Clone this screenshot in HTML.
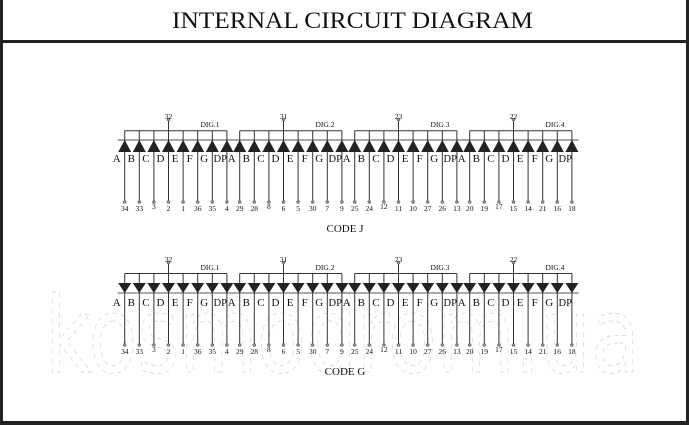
<!DOCTYPE html>
<html><head><meta charset="utf-8"><style>
html,body{margin:0;padding:0;background:#fff;}
svg{display:block;font-family:"Liberation Serif",serif;}
</style></head><body>
<svg width="689" height="425" viewBox="0 0 689 425" xmlns="http://www.w3.org/2000/svg">
<defs>
<g id="gj" stroke="#333" stroke-width="1" fill="none">
  <line x1="0" y1="130.7" x2="102.2" y2="130.7"/>
  <line x1="43.8" y1="120" x2="43.8" y2="130.7"/>
  <circle cx="43.8" cy="119.5" r="1.3" fill="#999" stroke="#777"/>
  <line x1="-7" y1="140" x2="109" y2="140" stroke="#555"/>
  <g id="dj">
    <line x1="0" y1="130.7" x2="0" y2="201"/>
    <polygon points="0,140 -6.5,152 6.5,152" fill="#222" stroke="none"/>
    <circle cx="0" cy="202" r="1.3" fill="#999" stroke="#777"/>
  </g>
  <use href="#dj" x="14.6"/><use href="#dj" x="29.2"/><use href="#dj" x="43.8"/>
  <use href="#dj" x="58.4"/><use href="#dj" x="73"/><use href="#dj" x="87.6"/><use href="#dj" x="102.2"/>
</g>
<g id="lj" font-size="11" fill="#111" text-anchor="middle">
  <text x="-8" y="162">A</text><text x="6.6" y="162">B</text><text x="21.2" y="162">C</text><text x="35.8" y="162">D</text>
  <text x="50.4" y="162">E</text><text x="65" y="162">F</text><text x="79.6" y="162">G</text><text x="95.5" y="162" font-size="10.5">DP</text>
</g>
<g id="gg" stroke="#333" stroke-width="1" fill="none">
  <line x1="0" y1="273.5" x2="102.2" y2="273.5"/>
  <line x1="43.8" y1="263" x2="43.8" y2="273.5"/>
  <circle cx="43.8" cy="262.5" r="1.3" fill="#999" stroke="#777"/>
  <line x1="-7" y1="293" x2="109" y2="293" stroke="#555"/>
  <g id="dg">
    <line x1="0" y1="273.5" x2="0" y2="344"/>
    <polygon points="-6.5,283 6.5,283 0,293" fill="#222" stroke="none"/>
    <circle cx="0" cy="345" r="1.3" fill="#999" stroke="#777"/>
  </g>
  <use href="#dg" x="14.6"/><use href="#dg" x="29.2"/><use href="#dg" x="43.8"/>
  <use href="#dg" x="58.4"/><use href="#dg" x="73"/><use href="#dg" x="87.6"/><use href="#dg" x="102.2"/>
</g>
</defs>

<!-- watermark -->
<text x="45" y="372" font-family="DejaVu Sans,sans-serif" font-weight="normal" font-size="105" fill="none" stroke="#d4d4d4" stroke-width="0.8" stroke-dasharray="5 5" textLength="595" lengthAdjust="spacingAndGlyphs">kosmodrom.ua</text>

<!-- frame -->
<rect x="0" y="0" width="3" height="425" fill="#222"/>
<rect x="686" y="0" width="3" height="425" fill="#222"/>
<rect x="0" y="40" width="689" height="3" fill="#222"/>
<rect x="0" y="421" width="689" height="4" fill="#222"/>
<text x="352.5" y="28" font-size="23" text-anchor="middle" fill="#111" textLength="361" lengthAdjust="spacingAndGlyphs">INTERNAL CIRCUIT DIAGRAM</text>

<!-- CODE J -->
<use href="#gj" x="124.7"/><use href="#gj" x="239.7"/><use href="#gj" x="354.7"/><use href="#gj" x="469.7"/>
<use href="#lj" x="124.7"/><use href="#lj" x="239.7"/><use href="#lj" x="354.7"/><use href="#lj" x="469.7"/>
<g font-size="7.5" fill="#111" text-anchor="middle">
<text x="168.5" y="119">32</text><text x="283.5" y="119">31</text><text x="398.5" y="119">23</text><text x="513.5" y="119">22</text>
<text x="210" y="127">DIG.1</text><text x="325" y="127">DIG.2</text><text x="440" y="127">DIG.3</text><text x="555" y="127">DIG.4</text>
</g>
<g font-size="7.5" fill="#111" text-anchor="middle">
<text x="124.7" y="211">34</text><text x="139.3" y="211">33</text><text x="153.9" y="209">3</text><text x="168.5" y="211">2</text><text x="183.1" y="211">1</text><text x="197.7" y="211">36</text><text x="212.3" y="211">35</text><text x="226.9" y="211">4</text>
<text x="239.7" y="211">29</text><text x="254.3" y="211">28</text><text x="268.9" y="209">8</text><text x="283.5" y="211">6</text><text x="298.1" y="211">5</text><text x="312.7" y="211">30</text><text x="327.3" y="211">7</text><text x="341.9" y="211">9</text>
<text x="354.7" y="211">25</text><text x="369.3" y="211">24</text><text x="383.9" y="209">12</text><text x="398.5" y="211">11</text><text x="413.1" y="211">10</text><text x="427.7" y="211">27</text><text x="442.3" y="211">26</text><text x="456.9" y="211">13</text>
<text x="469.7" y="211">20</text><text x="484.3" y="211">19</text><text x="498.9" y="209">17</text><text x="513.5" y="211">15</text><text x="528.1" y="211">14</text><text x="542.7" y="211">21</text><text x="557.3" y="211">16</text><text x="571.9" y="211">18</text>
</g>
<text x="345" y="232" font-size="11" text-anchor="middle" fill="#111">CODE J</text>

<!-- CODE G -->
<use href="#gg" x="124.7"/><use href="#gg" x="239.7"/><use href="#gg" x="354.7"/><use href="#gg" x="469.7"/>
<use href="#lj" x="124.7" y="144"/><use href="#lj" x="239.7" y="144"/><use href="#lj" x="354.7" y="144"/><use href="#lj" x="469.7" y="144"/>
<g font-size="7.5" fill="#111" text-anchor="middle">
<text x="168.5" y="262">32</text><text x="283.5" y="262">31</text><text x="398.5" y="262">23</text><text x="513.5" y="262">22</text>
<text x="210" y="270">DIG.1</text><text x="325" y="270">DIG.2</text><text x="440" y="270">DIG.3</text><text x="555" y="270">DIG.4</text>
</g>
<g font-size="7.5" fill="#111" text-anchor="middle">
<text x="124.7" y="354">34</text><text x="139.3" y="354">33</text><text x="153.9" y="352">3</text><text x="168.5" y="354">2</text><text x="183.1" y="354">1</text><text x="197.7" y="354">36</text><text x="212.3" y="354">35</text><text x="226.9" y="354">4</text>
<text x="239.7" y="354">29</text><text x="254.3" y="354">28</text><text x="268.9" y="352">8</text><text x="283.5" y="354">6</text><text x="298.1" y="354">5</text><text x="312.7" y="354">30</text><text x="327.3" y="354">7</text><text x="341.9" y="354">9</text>
<text x="354.7" y="354">25</text><text x="369.3" y="354">24</text><text x="383.9" y="352">12</text><text x="398.5" y="354">11</text><text x="413.1" y="354">10</text><text x="427.7" y="354">27</text><text x="442.3" y="354">26</text><text x="456.9" y="354">13</text>
<text x="469.7" y="354">20</text><text x="484.3" y="354">19</text><text x="498.9" y="352">17</text><text x="513.5" y="354">15</text><text x="528.1" y="354">14</text><text x="542.7" y="354">21</text><text x="557.3" y="354">16</text><text x="571.9" y="354">18</text>
</g>
<text x="345" y="375" font-size="11" text-anchor="middle" fill="#111">CODE G</text>
</svg>
</body></html>
